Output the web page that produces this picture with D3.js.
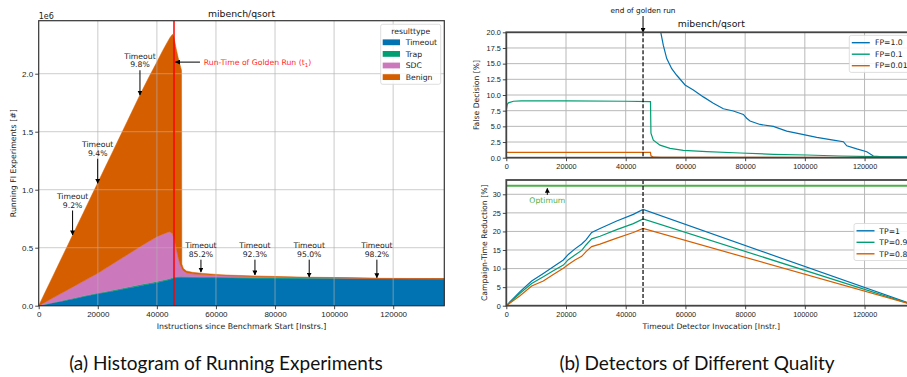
<!DOCTYPE html>
<html>
<head>
<meta charset="utf-8">
<script src="https://cdn.jsdelivr.net/npm/d3@7"></script>
<style>
  body { margin: 0; background: #fff; }
  svg { display: block; font-family: 'DejaVu Sans', sans-serif; }
</style>
</head>
<body>
<div id="chart"></div>
<script>
// ---------- data: (a) running experiments, stacked by result type (values in 1e6) ----------
const histX = [0, 2500, 5000, 7500, 10000, 12500, 15000, 17500, 20000, 22500, 25000, 27500, 30000, 32500, 35000, 37500, 40000, 42000, 43500, 44400, 45300, 45800, 46500, 47200, 47800, 48350, 48450, 49000, 50000, 52000, 55000, 60000, 65000, 73000, 80000, 91000, 100000, 115000, 125000, 137300];
const timeoutCount = [0, 0.012, 0.025, 0.037, 0.05, 0.063, 0.077, 0.09, 0.103, 0.113, 0.125, 0.138, 0.15, 0.162, 0.175, 0.187, 0.198, 0.21, 0.219, 0.225, 0.232, 0.238, 0.24, 0.241, 0.242, 0.243, 0.243, 0.243, 0.242, 0.241, 0.24, 0.239, 0.238, 0.237, 0.236, 0.234, 0.233, 0.232, 0.231, 0.23];
const trapCount = [0, 0.002, 0.003, 0.004, 0.005, 0.005, 0.006, 0.006, 0.007, 0.007, 0.008, 0.008, 0.008, 0.009, 0.009, 0.009, 0.01, 0.01, 0.01, 0.01, 0.01, 0.01, 0.01, 0.01, 0.01, 0.01, 0.009, 0.009, 0.009, 0.009, 0.008, 0.008, 0.008, 0.007, 0.007, 0.006, 0.006, 0.002, 0.002, 0.002];
const sdcCount = [0, 0.021, 0.042, 0.064, 0.085, 0.107, 0.127, 0.149, 0.17, 0.2, 0.227, 0.254, 0.282, 0.309, 0.336, 0.361, 0.387, 0.397, 0.403, 0.403, 0.378, 0.332, 0.25, 0.169, 0.108, 0.077, 0.068, 0.048, 0.034, 0.025, 0.02, 0.015, 0.01, 0.007, 0.004, 0.002, 0.001, 0.001, 0.001, 0.001];
const benignCount = [0, 0.098, 0.195, 0.293, 0.39, 0.488, 0.585, 0.683, 0.78, 0.873, 0.965, 1.058, 1.15, 1.243, 1.335, 1.423, 1.505, 1.583, 1.638, 1.672, 1.72, 1.73, 1.72, 1.72, 1.72, 1.7, 0.04, 0.02, 0.015, 0.013, 0.012, 0.008, 0.007, 0.006, 0.005, 0.004, 0.003, 0.001, 0.001, 0.001];
const resultTypes = ['Timeout', 'Trap', 'SDC', 'Benign'];
const instrTicks = [0, 20000, 40000, 60000, 80000, 100000, 120000];
const histYTicks = [0, 0.5, 1.0, 1.5, 2.0];
const goldenRunEnd = 45800;

const noteX = [11470, 19970, 34280, 54920, 73200, 91570, 114480];
const noteTipY = [0.61, 1.055, 1.816, 0.29, 0.265, 0.247, 0.241];
const noteTextY = [0.907, 1.353, 2.116, 0.483, 0.483, 0.483, 0.483];
const noteLabel = ['9.2%', '9.4%', '9.8%', '85.2%', '92.3%', '95.0%', '98.2%'];

// ---------- data: (b) detectors of different quality ----------
const fp1X = [0, 48300, 48450, 50000, 51700, 52600, 53740, 55410, 57080, 59870, 62650, 66000, 69350, 72700, 76050, 79400, 80520, 81640, 84990, 89450, 93920, 98390, 103980, 109550, 112900, 114040, 117390, 120740, 122950, 125190, 134140, 137300];
const fp1Y = [95, 95, 32, 25, 20.1, 17.9, 15.8, 14.2, 13.15, 11.6, 10.8, 9.7, 8.7, 7.8, 7.45, 6.9, 6.3, 5.85, 5.3, 5.0, 4.25, 3.8, 3.25, 2.8, 2.55, 1.9, 1.4, 0.95, 0.27, 0.17, 0.12, 0.1];
const fp01X = [0, 300, 700, 2400, 5000, 20000, 40000, 48300, 48450, 49250, 51490, 54840, 59300, 67140, 78300, 89450, 100640, 111790, 122950, 137300];
const fp01Y = [7.6, 8.5, 8.75, 9.0, 9.05, 9.05, 9.0, 8.93, 3.9, 2.8, 2.0, 1.5, 1.17, 0.96, 0.75, 0.54, 0.43, 0.27, 0.16, 0.1];
const fp001X = [0, 48300, 48450, 49300, 52000, 137300];
const fp001Y = [0.85, 0.85, 0.3, 0.08, 0.05, 0.02];
const fpLabels = ['FP=1.0', 'FP=0.1', 'FP=0.01'];
const fdYTicks = [0, 2.5, 5, 7.5, 10, 12.5, 15, 17.5, 20];

const tpX = [0, 4590, 8500, 12400, 15740, 19100, 20770, 23000, 25260, 26700, 28600, 31390, 36980, 42550, 45800, 137300];
const tp1Y = [0, 3.8, 6.65, 8.7, 10.5, 12.3, 13.8, 15.3, 16.6, 17.7, 19.75, 20.8, 22.8, 24.6, 25.9, 0];
const tp09Y = [0, 3.35, 5.95, 7.8, 9.4, 10.95, 12.4, 13.65, 14.9, 16.35, 18.0, 18.7, 20.5, 22.1, 23.35, 0];
const tp08Y = [0, 2.7, 5.3, 6.65, 8.4, 10.1, 11.1, 12.3, 13.3, 14.55, 15.9, 16.6, 18.2, 19.7, 20.8, 0];
const tpLabels = ['TP=1', 'TP=0.9', 'TP=0.8'];
const ctrYTicks = [0, 5, 10, 15, 20, 25, 30];
const optimum = 32.3;
const optimumNote = { x: 13735, textY: 28.5, tipY: 31.6 };

const colors = ['#0173b2', '#029e73', '#cc78bc', '#d55e00'];
const lineColors = ['#0173b2', '#029e73', '#d55e00'];

// ---------- setup ----------
const W = 907, H = 377;
const svg = d3.select('#chart').append('svg').attr('width', W).attr('height', H);

const defs = svg.append('defs');
defs.append('marker')
  .attr('id', 'arrow')
  .attr('viewBox', '0 0 10 10')
  .attr('refX', 9).attr('refY', 5)
  .attr('markerWidth', 5).attr('markerHeight', 5)
  .attr('markerUnits', 'userSpaceOnUse')
  .attr('orient', 'auto')
  .append('path').attr('d', 'M0,0 L10,5 L0,10 z').attr('fill', '#000');

const styleAxis = (g, size) => {
  g.select('.domain').remove();
  g.selectAll('line').attr('stroke', '#333').attr('stroke-width', 0.9);
  g.selectAll('text').attr('fill', '#222').style('font-size', size + 'px');
};

const arrow = (x1, y1, x2, y2) => {
  svg.append('line')
    .attr('x1', x1).attr('y1', y1).attr('x2', x2).attr('y2', y2)
    .attr('stroke', '#000').attr('stroke-width', 1)
    .attr('marker-end', 'url(#arrow)');
};

// ================= (a) Histogram of running experiments =================
const A = { left: 38.7, right: 444.3, top: 20.7, bottom: 305.7 };
const xA = d3.scaleLinear().domain([0, 137300]).range([A.left, A.right]);
const yA = d3.scaleLinear().domain([0, 2.457]).range([A.bottom, A.top]);

const rows = histX.map((x, i) => ({
  x,
  Timeout: timeoutCount[i],
  Trap: trapCount[i],
  SDC: sdcCount[i],
  Benign: benignCount[i]
}));
const stacked = d3.stack().keys(resultTypes)(rows);

const area = d3.area()
  .x(d => xA(d.data.x))
  .y0(d => yA(d[0]))
  .y1(d => yA(d[1]));

svg.append('g').selectAll('path')
  .data(stacked)
  .enter().append('path')
  .attr('d', area)
  .attr('fill', (d, i) => colors[i])
  .attr('stroke', (d, i) => colors[i])
  .attr('stroke-width', 0.5);

// grid above the areas (translucent)
const gridA = svg.append('g').attr('stroke', '#b0b0b0').attr('stroke-opacity', 0.5).attr('stroke-width', 1.3);
gridA.selectAll('.gx').data(instrTicks.slice(1)).enter().append('line')
  .attr('x1', d => xA(d)).attr('x2', d => xA(d)).attr('y1', A.top).attr('y2', A.bottom);
gridA.selectAll('.gy').data(histYTicks.slice(1)).enter().append('line')
  .attr('x1', A.left).attr('x2', A.right).attr('y1', d => yA(d)).attr('y2', d => yA(d));

// golden run end
svg.append('line')
  .attr('x1', xA(goldenRunEnd)).attr('x2', xA(goldenRunEnd))
  .attr('y1', A.top).attr('y2', A.bottom)
  .attr('stroke', '#ff0000').attr('stroke-width', 1.5);

svg.append('rect')
  .attr('x', A.left).attr('y', A.top)
  .attr('width', A.right - A.left).attr('height', A.bottom - A.top)
  .attr('fill', 'none').attr('stroke', '#333').attr('stroke-width', 1.2);

svg.append('g')
  .attr('transform', `translate(0,${A.bottom})`)
  .call(d3.axisBottom(xA).tickValues(instrTicks).tickSize(3.5).tickPadding(2).tickFormat(d3.format('d')))
  .call(g => styleAxis(g, 8));
svg.append('g')
  .attr('transform', `translate(${A.left},0)`)
  .call(d3.axisLeft(yA).tickValues(histYTicks).tickSize(3.5).tickPadding(2).tickFormat(d3.format('.1f')))
  .call(g => styleAxis(g, 8));

svg.append('text').attr('x', A.left).attr('y', 18.5)
  .style('font-size', '8px').attr('fill', '#222').text('1e6');
svg.append('text').attr('x', (A.left + A.right) / 2).attr('y', 16.5)
  .attr('text-anchor', 'middle').style('font-size', '9.3px').attr('fill', '#111').text('mibench/qsort');
svg.append('text').attr('x', (A.left + A.right) / 2).attr('y', 328.5)
  .attr('text-anchor', 'middle').style('font-size', '7.8px').attr('fill', '#222')
  .text('Instructions since Benchmark Start [Instrs.]');
svg.append('text')
  .attr('transform', `translate(15.5,${(A.top + A.bottom) / 2}) rotate(-90)`)
  .attr('text-anchor', 'middle').style('font-size', '7.8px').attr('fill', '#222')
  .text('Running FI Experiments [#]');

// timeout annotations
noteX.forEach((x, i) => {
  const tx = xA(x), ty = yA(noteTextY[i]);
  const t = svg.append('text').attr('text-anchor', 'middle').style('font-size', '7.7px').attr('fill', '#222');
  t.append('tspan').attr('x', tx).attr('y', ty - 1.5).text('Timeout');
  t.append('tspan').attr('x', tx).attr('y', ty + 7.2).text(noteLabel[i]);
  arrow(tx, ty + 10, tx, yA(noteTipY[i]));
});

// run-time of golden run label
const rtY = yA(2.10);
arrow(xA(54600), rtY, xA(46300), rtY);
const rt = svg.append('text').attr('x', xA(55900)).attr('y', rtY + 2.8)
  .style('font-size', '7.7px').attr('fill', '#ff2a2a');
rt.append('tspan').text('Run-Time of Golden Run (t');
rt.append('tspan').attr('dy', 1.8).style('font-size', '5.5px').text('1');
rt.append('tspan').attr('dy', -1.8).text(')');

// legend (a)
const legA = svg.append('g').attr('transform', 'translate(380.7,24.3)');
legA.append('rect').attr('width', 60).attr('height', 60).attr('rx', 2)
  .attr('fill', '#fff').attr('fill-opacity', 0.85).attr('stroke', '#d6d6d6').attr('stroke-width', 0.8);
legA.append('text').attr('x', 30).attr('y', 9.5).attr('text-anchor', 'middle')
  .style('font-size', '7.7px').attr('fill', '#222').text('resulttype');
resultTypes.forEach((k, i) => {
  const cy = 18 + i * 11.6;
  legA.append('rect').attr('x', 2).attr('y', cy - 2.9).attr('width', 17.3).attr('height', 5.8).attr('fill', colors[i]);
  legA.append('text').attr('x', 25).attr('y', cy + 2.8).style('font-size', '7.7px').attr('fill', '#222').text(k);
});

// ================= (b) Detectors of different quality =================
const B = { left: 506.3, right: 916.2 };
const top1 = { top: 32.3, bottom: 157.7 };
const top2 = { top: 180, bottom: 305.7 };
const xB = d3.scaleLinear().domain([0, 137300]).range([B.left, B.right]);
const yFD = d3.scaleLinear().domain([0, 20]).range([top1.bottom, top1.top]);
const yCT = d3.scaleLinear().domain([0, 33.85]).range([top2.bottom, top2.top]);

[['clipFD', top1], ['clipCT', top2]].forEach(([id, p]) => {
  defs.append('clipPath').attr('id', id).append('rect')
    .attr('x', B.left).attr('y', p.top).attr('width', B.right - B.left).attr('height', p.bottom - p.top);
});

const gridB = (yScale, ticks, p) => {
  const g = svg.append('g').attr('stroke', '#b8b8b8').attr('stroke-width', 1);
  g.selectAll('.gx').data(instrTicks.slice(1)).enter().append('line')
    .attr('x1', d => xB(d)).attr('x2', d => xB(d)).attr('y1', p.top).attr('y2', p.bottom);
  g.selectAll('.gy').data(ticks.slice(1)).enter().append('line')
    .attr('x1', B.left).attr('x2', B.right).attr('y1', d => yScale(d)).attr('y2', d => yScale(d));
};
gridB(yFD, fdYTicks, top1);
gridB(yCT, ctrYTicks, top2);

const drawLine = (xs, ys, yScale, color, clip, width) => {
  const line = d3.line().x((d, i) => xB(xs[i])).y(d => yScale(d));
  svg.append('path').datum(ys)
    .attr('clip-path', `url(#${clip})`)
    .attr('d', line)
    .attr('fill', 'none').attr('stroke', color).attr('stroke-width', width || 1.2);
};

drawLine(fp1X, fp1Y, yFD, lineColors[0], 'clipFD');
drawLine(fp01X, fp01Y, yFD, lineColors[1], 'clipFD');
drawLine(fp001X, fp001Y, yFD, lineColors[2], 'clipFD');

drawLine(tpX, tp1Y, yCT, lineColors[0], 'clipCT');
drawLine(tpX, tp09Y, yCT, lineColors[1], 'clipCT');
drawLine(tpX, tp08Y, yCT, lineColors[2], 'clipCT');
drawLine([0, 137300], [optimum, optimum], yCT, '#4daf4a', 'clipCT', 2);

// end of golden run dashed lines
[top1, top2].forEach(p => {
  svg.append('line')
    .attr('x1', xB(goldenRunEnd)).attr('x2', xB(goldenRunEnd))
    .attr('y1', p.top).attr('y2', p.bottom)
    .attr('stroke', '#000').attr('stroke-width', 1.2).attr('stroke-dasharray', '4,2');
});
svg.append('text').attr('x', xB(goldenRunEnd)).attr('y', 13)
  .attr('text-anchor', 'middle').style('font-size', '7.3px').attr('fill', '#111').text('end of golden run');
arrow(xB(goldenRunEnd), 16, xB(goldenRunEnd), top1.top);

// optimum note
svg.append('text').attr('x', xB(optimumNote.x)).attr('y', yCT(optimumNote.textY) + 2.8)
  .attr('text-anchor', 'middle').style('font-size', '7.7px').attr('fill', '#4daf4a').text('Optimum');
arrow(xB(optimumNote.x), yCT(optimumNote.textY) - 5, xB(optimumNote.x), yCT(optimumNote.tipY));

// spines + axes
[top1, top2].forEach(p => {
  svg.append('rect')
    .attr('x', B.left).attr('y', p.top)
    .attr('width', B.right - B.left).attr('height', p.bottom - p.top)
    .attr('fill', 'none').attr('stroke', '#444').attr('stroke-width', 1.8);
  svg.append('g')
    .attr('transform', `translate(0,${p.bottom})`)
    .call(d3.axisBottom(xB).tickValues(instrTicks).tickSize(3.5).tickPadding(2.5).tickFormat(d3.format('d')))
    .call(g => styleAxis(g, 7.3));
});
svg.append('g')
  .attr('transform', `translate(${B.left},0)`)
  .call(d3.axisLeft(yFD).tickValues(fdYTicks).tickSize(3.5).tickPadding(2).tickFormat(d3.format('.1f')))
  .call(g => styleAxis(g, 7.3));
svg.append('g')
  .attr('transform', `translate(${B.left},0)`)
  .call(d3.axisLeft(yCT).tickValues(ctrYTicks).tickSize(3.5).tickPadding(2).tickFormat(d3.format('d')))
  .call(g => styleAxis(g, 7.3));

svg.append('text').attr('x', (B.left + B.right) / 2).attr('y', 27.3)
  .attr('text-anchor', 'middle').style('font-size', '9.3px').attr('fill', '#111').text('mibench/qsort');
svg.append('text').attr('x', (B.left + B.right) / 2).attr('y', 328.5)
  .attr('text-anchor', 'middle').style('font-size', '7.7px').attr('fill', '#222')
  .text('Timeout Detector Invocation [Instr.]');
svg.append('text')
  .attr('transform', `translate(478.5,${(top1.top + top1.bottom) / 2}) rotate(-90)`)
  .attr('text-anchor', 'middle').style('font-size', '7.7px').attr('fill', '#222')
  .text('False Decision [%]');
svg.append('text')
  .attr('transform', `translate(486.5,${(top2.top + top2.bottom) / 2}) rotate(-90)`)
  .attr('text-anchor', 'middle').style('font-size', '7.7px').attr('fill', '#222')
  .text('Campaign-Time Reduction [%]');

// legends (b)
const lineLegend = (x, y, labels, textX) => {
  const g = svg.append('g').attr('transform', `translate(${x},${y})`);
  g.append('rect').attr('width', 75).attr('height', 37).attr('rx', 2)
    .attr('fill', '#fff').attr('fill-opacity', 0.85).attr('stroke', '#d6d6d6').attr('stroke-width', 0.8);
  labels.forEach((lab, i) => {
    const cy = 7.3 + i * 11.5;
    g.append('line').attr('x1', 2.5).attr('x2', 20.5).attr('y1', cy).attr('y2', cy)
      .attr('stroke', lineColors[i]).attr('stroke-width', 1.4);
    g.append('text').attr('x', textX).attr('y', cy + 2.7)
      .style('font-size', '7.7px').attr('fill', '#222').text(lab);
  });
};
lineLegend(849.3, 35.4, fpLabels, 25.7);
lineLegend(854, 223.5, tpLabels, 25.3);

// captions
svg.append('text').attr('x', 226).attr('y', 370).attr('text-anchor', 'middle')
  .style('font-family', 'Lato, sans-serif').style('font-size', '19px').attr('fill', '#111')
  .text('(a) Histogram of Running Experiments');
svg.append('text').attr('x', 697).attr('y', 370).attr('text-anchor', 'middle')
  .style('font-family', 'Lato, sans-serif').style('font-size', '19px').attr('fill', '#111')
  .text('(b) Detectors of Different Quality');
</script>
</body>
</html>
